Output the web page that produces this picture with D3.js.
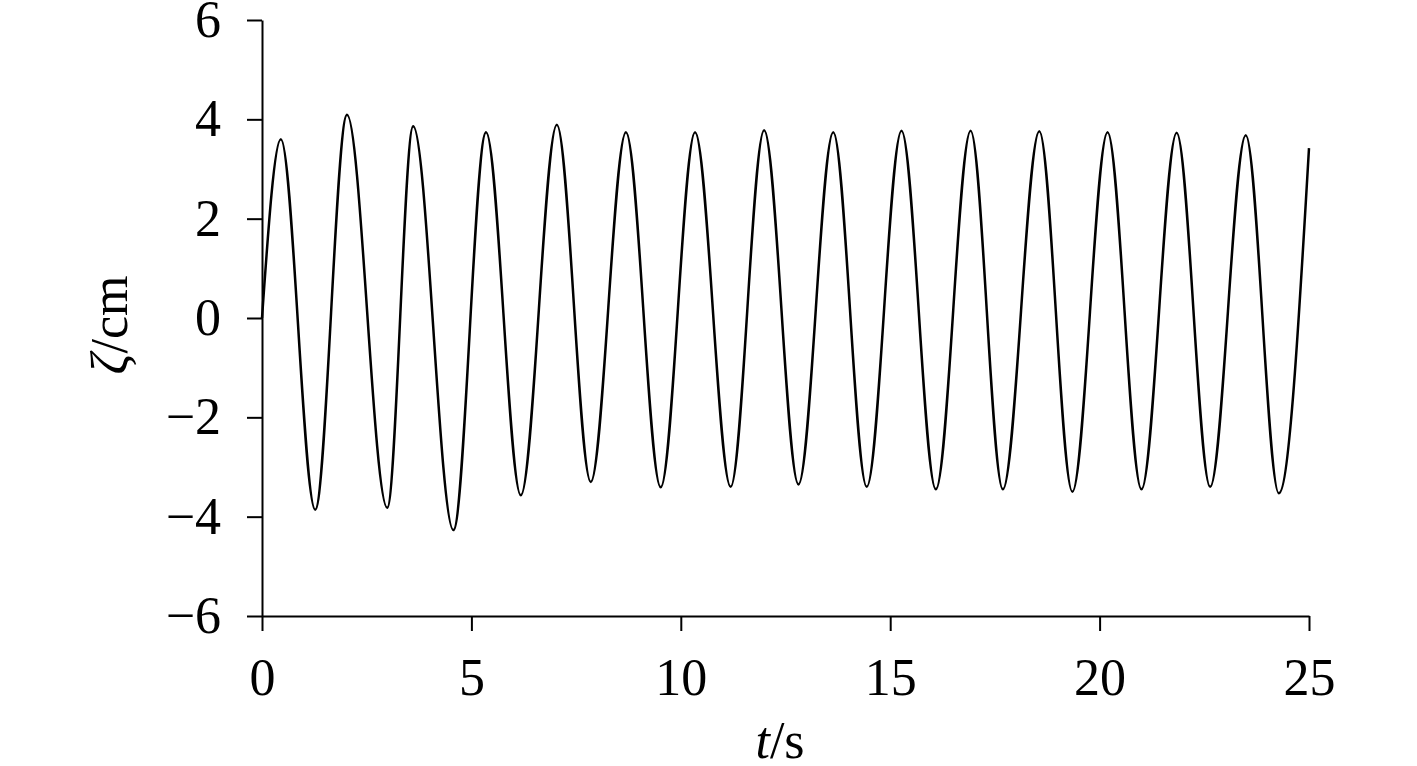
<!DOCTYPE html>
<html>
<head>
<meta charset="utf-8">
<script src="https://cdn.jsdelivr.net/npm/d3@7"></script>
<style>
  html, body { margin: 0; padding: 0; background: #fff; }
  svg text { font-family: "Liberation Serif", "Times New Roman", serif; fill: #000; }
</style>
</head>
<body>
<div id="chart"></div>
<script>
// elevation record: start, alternating peaks / troughs, end
const times = [0, 0.45, 1.27, 2.03, 2.99, 3.61, 4.57, 5.35, 6.18, 7.04, 7.85, 8.69, 9.52,
    10.34, 11.19, 11.99, 12.81, 13.64, 14.44, 15.27, 16.09, 16.92, 17.69, 18.56, 19.35,
    20.19, 21.0, 21.84, 22.64, 23.49, 24.28, 25.0];
const zeta = [0, 3.60, -3.86, 4.09, -3.82, 3.86, -4.27, 3.74, -3.57, 3.89, -3.30, 3.74, -3.41,
    3.74, -3.40, 3.78, -3.35, 3.74, -3.40, 3.77, -3.45, 3.77, -3.45, 3.76, -3.50,
    3.74, -3.45, 3.73, -3.40, 3.68, -3.53, 3.42];
const xTicks = [0, 5, 10, 15, 20, 25];
const yTicks = [-6, -4, -2, 0, 2, 4, 6];

const width = 1417;
const height = 766;
const fontSize = 52;

const svg = d3.select("#chart")
    .append("svg")
    .attr("width", width)
    .attr("height", height);

const x = d3.scaleLinear().domain([0, 25]).range([262, 1309]);
const y = d3.scaleLinear().domain([-6, 6]).range([616, 20]);

// y axis
const yAxis = svg.append("g")
    .attr("transform", `translate(${x(0)},0)`)
    .call(d3.axisLeft(y).tickValues(yTicks).tickSize(15).tickSizeOuter(0).tickPadding(26));

// x axis
const xAxis = svg.append("g")
    .attr("transform", `translate(0,${y(-6)})`)
    .call(d3.axisBottom(x).tickValues(xTicks).tickSize(15).tickSizeOuter(0));

[xAxis, yAxis].forEach(ax => {
    ax.select(".domain").attr("stroke", "#000").attr("stroke-width", 2);
    ax.selectAll(".tick line").attr("stroke", "#000").attr("stroke-width", 2);
    ax.selectAll(".tick text")
        .style("font-size", fontSize + "px")
        .style("font-family", "'Liberation Serif', 'Times New Roman', serif")
        .attr("fill", "#000");
});

xAxis.selectAll(".tick text").attr("y", 79).attr("dy", 0);

// the curve
const data = times.map((t, i) => ({ t: t, v: zeta[i] }));
const line = d3.line()
    .x(d => x(d.t))
    .y(d => y(d.v))
    .curve(d3.curveMonotoneX);

svg.append("path")
    .datum(data)
    .attr("fill", "none")
    .attr("stroke", "#000")
    .attr("stroke-width", 2.5)
    .attr("stroke-linejoin", "round")
    .attr("d", line);

// axis titles
const xt = svg.append("text")
    .attr("x", 780)
    .attr("y", 758)
    .attr("text-anchor", "middle")
    .style("font-size", fontSize + "px");
xt.append("tspan").style("font-style", "italic").text("t");
xt.append("tspan").text("/s");

const yt = svg.append("text")
    .attr("transform", "translate(127,325) rotate(-90)")
    .attr("text-anchor", "middle")
    .style("font-size", fontSize + "px");
yt.append("tspan").style("font-style", "italic").text("ζ");
yt.append("tspan").text("/cm");
</script>
</body>
</html>
